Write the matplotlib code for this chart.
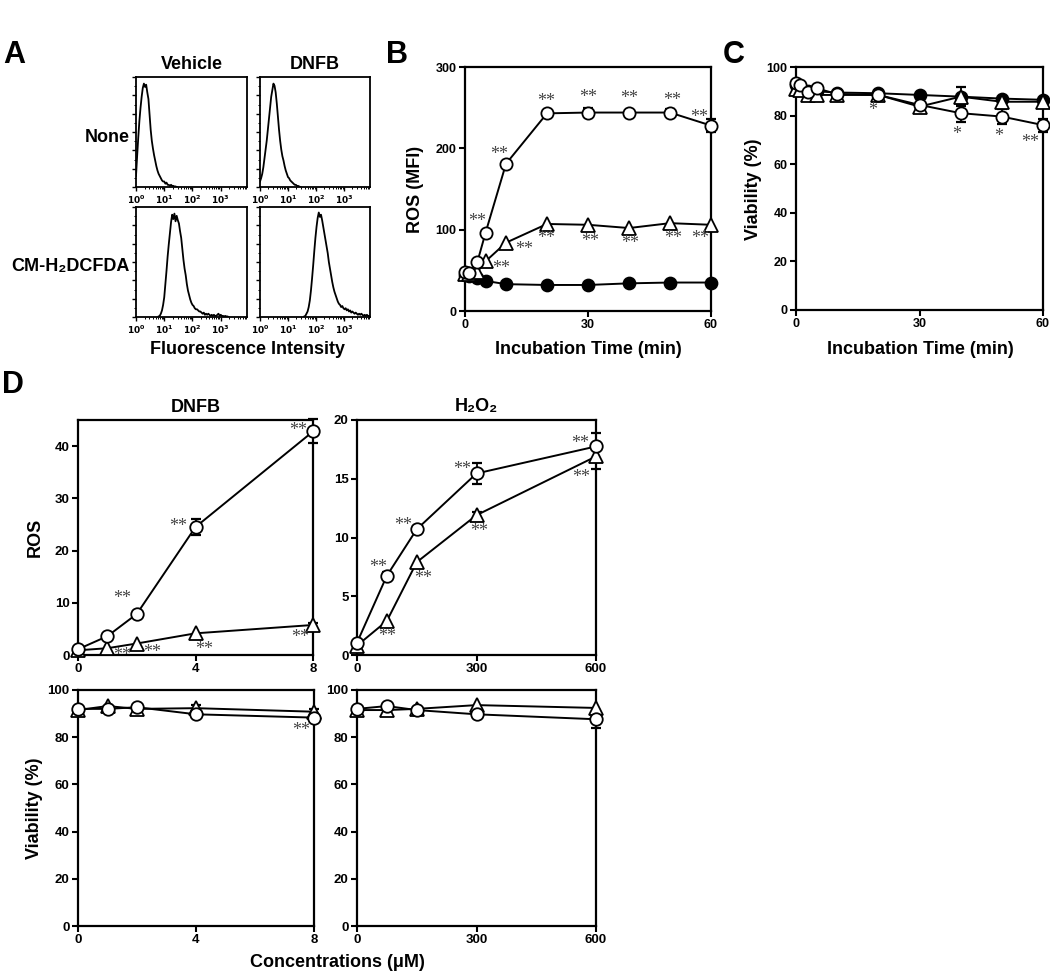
import numpy as np
import matplotlib
matplotlib.use("Agg")
import matplotlib.pyplot as plt
from matplotlib.ticker import FixedLocator, NullFormatter, LogLocator

plt.rcParams['font.family'] = ['Liberation Sans', 'DejaVu Sans']
plt.rcParams['font.weight'] = 'bold'
plt.rcParams['mathtext.default'] = 'bf'

# ---------------- data ----------------
# A: flow histograms, counts (% of max box height) every 0.04 decade
hist_step = 0.04
hist_vehicle_none_start = 0.0
hist_vehicle_none = [10, 28, 45, 60, 72, 82, 90, 94, 91, 93, 86, 80, 66, 52, 42, 35, 29, 24,
                     19, 15, 12, 10, 8, 6, 5, 5, 3, 4, 2, 2, 1, 2, 1, 1, 0.5, 0.5, 0]
hist_dnfb_none_start = 0.0
hist_dnfb_none = [5, 8, 12, 18, 26, 34, 42, 52, 62, 72, 82, 88, 94, 92, 86, 76, 64, 52,
                  42, 34, 28, 24, 19, 15, 12, 9, 8, 6, 5, 4, 3, 2, 2, 1, 1, 0.5, 0]
hist_vehicle_cm_start = 0.80
hist_vehicle_cm = [0.5, 1, 3, 6, 11, 18, 30, 42, 55, 66, 76, 86, 93, 89, 94, 87, 92, 88,
                   85, 78, 72, 62, 52, 44, 38, 30, 24, 20, 16, 13, 11, 10, 8, 7, 7, 6, 5,
                   5, 4, 3, 4, 2, 3, 2, 3, 2, 1, 2, 1, 2, 1, 1, 2, 3, 1, 2, 1, 1, 0.5, 1,
                   0.5, 0.5, 0]
hist_dnfb_cm_start = 1.58
hist_dnfb_cm = [0.5, 1, 3, 5, 9, 15, 24, 35, 47, 60, 72, 82, 90, 95, 91, 93, 88, 82, 76,
                70, 64, 58, 50, 44, 38, 32, 27, 23, 20, 17, 14, 12, 11, 9, 10, 8, 7, 8,
                6, 7, 5, 6, 4, 5, 4, 3, 4, 3, 2, 3, 2, 3, 2, 1, 2, 1, 2, 1, 1, 0.5]

# B: ROS (MFI) vs incubation time
time_min = [0, 1, 3, 5, 10, 20, 30, 40, 50, 60]
b_open = [48, 47, 60, 96, 181, 243, 244, 244, 244, 228]
b_open_err = [0, 0, 0, 0, 0, 0, 6, 0, 4, 8]
b_tri = [45, 46, 48, 61, 84, 107, 106, 102, 108, 106]
b_fill = [44, 43, 41, 37, 33, 32, 32, 34, 35, 35]
b_open_sig = ['', '', '', '**', '**', '**', '**', '**', '**', '**']
b_tri_sig = ['', '', '', '**', '**', '**', '**', '**', '**', '**']

# C: viability vs incubation time
c_open = [93.3, 92.6, 89.8, 91.2, 88.9, 88.5, 84.4, 81, 79.6, 76.1]
c_open_err = [0, 0, 0, 0, 0, 0, 1, 3.5, 3.2, 2.7]
c_tri = [91, 90.5, 88.5, 88.5, 88.5, 88.5, 83.7, 87.8, 85.7, 85.7]
c_tri_err = [0, 0, 0, 0, 0, 0, 0, 4, 1.5, 0]
c_fill = [92.5, 91.5, 90, 90, 89.5, 89.2, 88.5, 87.8, 87, 86.5]
c_open_sig = ['', '', '', '', '', '*', '', '*', '*', '**']

# D: dose responses
dnfb_conc = [0, 1, 2, 4, 8]
dnfb_ros_open = [1.1, 3.6, 7.85, 24.5, 42.8]
dnfb_ros_open_err = [0, 0, 0.5, 1.6, 2.3]
dnfb_ros_tri = [0.9, 1.3, 2.2, 4.15, 5.75]
dnfb_ros_tri_err = [0, 0, 0, 0, 0.4]
dnfb_ros_open_sig = ['', '', '**', '**', '**']
dnfb_ros_tri_sig = ['', '**', '**', '**', '**']

h2o2_conc = [0, 75, 150, 300, 600]
h2o2_ros_open = [1.05, 6.75, 10.7, 15.45, 17.75]
h2o2_ros_open_err = [0, 0.3, 0.3, 0.9, 1.15]
h2o2_ros_tri = [0.8, 2.9, 7.9, 11.9, 16.9]
h2o2_ros_tri_err = [0, 0, 0, 0.3, 1.05]
h2o2_ros_open_sig = ['', '**', '**', '**', '**']
h2o2_ros_tri_sig = ['', '**', '**', '**', '**']

dnfb_via_open = [92, 92, 92.7, 89.7, 88.3]
dnfb_via_open_err = [0, 0, 0, 1.2, 1.5]
dnfb_via_tri = [91.5, 93.2, 92, 92.3, 90.8]
dnfb_via_tri_err = [0, 0, 1, 1.5, 1.2]
dnfb_via_open_sig = ['', '', '', '', '**']
h2o2_via_open = [92, 93.2, 91.5, 89.7, 87.6]
h2o2_via_open_err = [0, 0, 1.5, 1.5, 3.9]
h2o2_via_tri = [91.5, 91.5, 92, 93.6, 92.4]
h2o2_via_tri_err = [0, 0, 0, 0, 0]

# ---------------- figure ----------------
W, H = 1050, 972
fig = plt.figure(figsize=(W / 100, H / 100), dpi=100)


def add_ax(l, t, r, b):
    return fig.add_axes([l / W, 1 - b / H, (r - l) / W, (b - t) / H])


def ftext(x, y, s, **kw):
    kw.setdefault('ha', 'center')
    kw.setdefault('va', 'center')
    fig.text(x / W, 1 - y / H, s, **kw)


def style(ax, fs=9):
    for sp in ax.spines.values():
        sp.set_linewidth(1.6)
    ax.tick_params(direction='out', length=4, width=1.5, labelsize=fs, pad=2)


def series(ax, x, y, err, marker, face, ms):
    x = np.asarray(x, float)
    y = np.asarray(y, float)
    e = np.asarray(err, float)
    m = e > 0
    if m.any():
        ax.errorbar(x[m], y[m], yerr=e[m], fmt='none', ecolor='k', elinewidth=1.3,
                    capsize=3.8, capthick=1.6, zorder=2, clip_on=False)
    ax.plot(x, y, color='k', lw=1.4, marker=marker, ms=ms, mfc=face, mec='k',
            mew=1.3, zorder=3, clip_on=False)


def stars(ax, x, y, labels, offsets):
    for xi, yi, lab, off in zip(x, y, labels, offsets):
        if lab:
            ax.annotate(lab, (xi, yi), xytext=off, textcoords='offset pixels',
                        ha='center', va='center', fontsize=13, color='#444444',
                        family='Liberation Serif', fontweight='normal',
                        annotation_clip=False, zorder=5)


# ---- Panel A ----
hists = [
    ((136, 77, 247, 187), hist_vehicle_none_start, hist_vehicle_none),
    ((260, 77, 370, 187), hist_dnfb_none_start, hist_dnfb_none),
    ((136, 207, 247, 317), hist_vehicle_cm_start, hist_vehicle_cm),
    ((260, 207, 370, 317), hist_dnfb_cm_start, hist_dnfb_cm),
]
for box, start, counts in hists:
    ax = add_ax(*box)
    lx = start + hist_step * np.arange(len(counts))
    ax.plot(10 ** lx, counts, color='k', lw=1.3)
    ax.set_xscale('log')
    ax.set_xlim(1, 10 ** 3.93)
    ax.set_ylim(0, 100)
    for sp in ax.spines.values():
        sp.set_linewidth(1.3)
    ax.xaxis.set_major_locator(FixedLocator([1, 10, 100, 1000]))
    ax.xaxis.set_minor_locator(LogLocator(base=10, subs=np.arange(2, 10)))
    ax.xaxis.set_minor_formatter(NullFormatter())
    ax.set_xticklabels([r'$10^{0}$', r'$10^{1}$', r'$10^{2}$', r'$10^{3}$'])
    ax.yaxis.set_major_locator(FixedLocator(np.linspace(0, 100, 7)))
    ax.yaxis.set_minor_locator(FixedLocator(np.linspace(0, 100, 13)))
    ax.set_yticklabels([])
    ax.tick_params(which='major', direction='out', length=3, width=1.0, labelsize=6.5, pad=1.5)
    ax.tick_params(which='minor', direction='out', length=1.6, width=0.7)

ftext(14, 55, 'A', fontsize=22)
ftext(191.5, 64.5, 'Vehicle', fontsize=13)
ftext(315, 64.5, 'DNFB', fontsize=13)
ftext(130, 137, 'None', fontsize=13, ha='right')
ftext(130, 267, 'CM-H\u2082DCFDA', fontsize=13, ha='right')
ftext(247.5, 349, 'Fluorescence Intensity', fontsize=13)

# ---- Panel B ----
axB = add_ax(465, 67, 711, 311)
series(axB, time_min, b_fill, [0] * 10, 'o', 'k', 8.6)
series(axB, time_min, b_tri, [0] * 10, '^', 'w', 9.5)
series(axB, time_min, b_open, b_open_err, 'o', 'w', 8.8)
axB.set_xlim(0, 60)
axB.set_ylim(0, 300)
axB.set_xticks([0, 30, 60])
axB.set_yticks([0, 100, 200, 300])
style(axB)
stars(axB, time_min, b_open, b_open_sig,
      [None, None, None, (-8, 11), (-7, 9), (-1, 12), (0, 15), (0, 14), (2, 12), (-12, 8)])
stars(axB, time_min, b_tri, b_tri_sig,
      [None, None, None, (16, -7), (18, -7), (-1, -15), (2, -17), (1, -15), (3, -15), (-11, -14)])
ftext(397, 55, 'B', fontsize=22)
ftext(415, 189, 'ROS (MFI)', fontsize=13, rotation=90)
ftext(588, 350, 'Incubation Time (min)', fontsize=13)

# ---- Panel C ----
axC = add_ax(796, 67, 1043, 310)
series(axC, time_min, c_fill, [0] * 10, 'o', 'k', 8.6)
series(axC, time_min, c_tri, c_tri_err, '^', 'w', 9.5)
series(axC, time_min, c_open, c_open_err, 'o', 'w', 8.8)
axC.set_xlim(0, 60)
axC.set_ylim(0, 100)
axC.set_xticks([0, 30, 60])
axC.set_yticks([0, 20, 40, 60, 80, 100])
style(axC)
stars(axC, time_min, c_open, c_open_sig,
      [None, None, None, None, None, (-6, -16), None, (-4, -21), (-3, -20), (-13, -17)])
ftext(734, 55, 'C', fontsize=22)
ftext(753.5, 189, 'Viability (%)', fontsize=13, rotation=90)
ftext(920, 350, 'Incubation Time (min)', fontsize=13)

# ---- Panel D ----
axD1 = add_ax(78, 420, 313, 655)
series(axD1, dnfb_conc, dnfb_ros_tri, dnfb_ros_tri_err, '^', 'w', 10)
series(axD1, dnfb_conc, dnfb_ros_open, dnfb_ros_open_err, 'o', 'w', 9)
axD1.set_xlim(0, 8)
axD1.set_ylim(0, 45)
axD1.set_xticks([0, 4, 8])
axD1.set_yticks([0, 10, 20, 30, 40])
style(axD1, 9.5)
stars(axD1, dnfb_conc, dnfb_ros_open, dnfb_ros_open_sig,
      [None, None, (-15, 16), (-17, 1), (-15, 1)])
stars(axD1, dnfb_conc, dnfb_ros_tri, dnfb_ros_tri_sig,
      [None, (15, -7), (15, -9), (9, -16), (-13, -13)])

axD2 = add_ax(357, 420, 596, 655)
series(axD2, h2o2_conc, h2o2_ros_tri, h2o2_ros_tri_err, '^', 'w', 10)
series(axD2, h2o2_conc, h2o2_ros_open, h2o2_ros_open_err, 'o', 'w', 9)
axD2.set_xlim(0, 600)
axD2.set_ylim(0, 20)
axD2.set_xticks([0, 300, 600])
axD2.set_yticks([0, 5, 10, 15, 20])
style(axD2, 9.5)
stars(axD2, h2o2_conc, h2o2_ros_open, h2o2_ros_open_sig,
      [None, (-9, 8), (-14, 4), (-14, 4), (-16, 3)])
stars(axD2, h2o2_conc, h2o2_ros_tri, h2o2_ros_tri_sig,
      [None, (0, -16), (6, -16), (3, -16), (-15, -21)])

axD3 = add_ax(78, 690, 314, 926)
series(axD3, dnfb_conc, dnfb_via_tri, dnfb_via_tri_err, '^', 'w', 10)
series(axD3, dnfb_conc, dnfb_via_open, dnfb_via_open_err, 'o', 'w', 9)
axD3.set_xlim(0, 8)
axD3.set_ylim(0, 100)
axD3.set_xticks([0, 4, 8])
axD3.set_yticks([0, 20, 40, 60, 80, 100])
style(axD3, 9.5)
stars(axD3, dnfb_conc, dnfb_via_open, dnfb_via_open_sig,
      [None, None, None, None, (-13, -13)])

axD4 = add_ax(357, 690, 596, 926)
series(axD4, h2o2_conc, h2o2_via_tri, h2o2_via_tri_err, '^', 'w', 10)
series(axD4, h2o2_conc, h2o2_via_open, h2o2_via_open_err, 'o', 'w', 9)
axD4.set_xlim(0, 600)
axD4.set_ylim(0, 100)
axD4.set_xticks([0, 300, 600])
axD4.set_yticks([0, 20, 40, 60, 80, 100])
style(axD4, 9.5)

ftext(13, 385, 'D', fontsize=22)
ftext(195.5, 407.5, 'DNFB', fontsize=13)
ftext(476.5, 407, 'H\u2082O\u2082', fontsize=13)
ftext(35, 537, 'ROS', fontsize=13, rotation=90)
ftext(34.5, 808, 'Viability (%)', fontsize=13, rotation=90)
ftext(337.5, 962, 'Concentrations (\u03bcM)', fontsize=13)

fig.savefig('out.png', dpi=100)
